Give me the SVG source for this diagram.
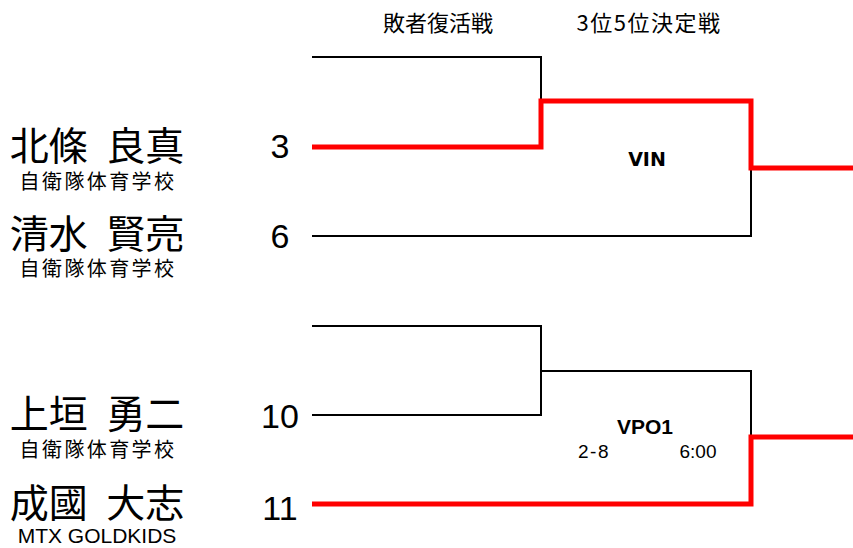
<svg xmlns="http://www.w3.org/2000/svg" width="853" height="548" viewBox="0 0 853 548">
<style>
.bg{fill:#fff}
.name{font-family:"Noto Sans CJK JP","Noto Sans",sans-serif;font-size:39px;fill:#000;text-anchor:middle;word-spacing:10px}
.school{font-family:"Noto Sans CJK JP","Noto Sans",sans-serif;font-size:20px;letter-spacing:2.4px;fill:#000;text-anchor:middle}
.team{font-family:"Liberation Sans",Arial,sans-serif;font-size:21px;fill:#000;text-anchor:middle}
.seed{font-family:"Liberation Sans",Arial,sans-serif;font-size:34px;fill:#000;text-anchor:middle}
.head{font-family:"Noto Sans CJK JP","Noto Sans",sans-serif;font-size:22px;fill:#000;text-anchor:middle}
.match{font-family:"Liberation Sans",Arial,sans-serif;font-size:21px;font-weight:bold;fill:#000;text-anchor:middle}
.vin{font-family:"DejaVu Sans",Verdana,sans-serif;font-size:19px;font-weight:bold;fill:#000;text-anchor:middle}
.info{font-family:"Liberation Sans",Arial,sans-serif;font-size:19px;fill:#000;text-anchor:middle}
.blk{fill:none;stroke:#000;stroke-width:2}
.red{fill:none;stroke:#ff0000;stroke-width:5;stroke-linejoin:miter}
</style>
<rect class="bg" x="0" y="0" width="853" height="548"/>
<g id="headers">
<text class="head" x="438" y="31">敗者復活戦</text>
<text class="head" x="649" y="31" style="letter-spacing:1.5px">3位5位決定戦</text>
</g>
<g id="connectors">
<path class="blk" d="M312,57 H541 V101"/>
<path class="blk" d="M312,236 H751 V168"/>
<path class="red" d="M312,147 H541 V101 H751 V168 H853"/>
<path class="blk" d="M312,326 H541 V415 H312"/>
<path class="blk" d="M541,371 H751 V437"/>
<path class="red" d="M312,504 H751 V437 H853"/>
</g>
<g id="player-3">
<text class="name" x="97" y="160">北條 良真</text>
<text class="school" x="98" y="189">自衛隊体育学校</text>
<text class="seed" x="280" y="158">3</text>
</g>
<g id="player-6">
<text class="name" x="97" y="248">清水 賢亮</text>
<text class="school" x="98" y="276">自衛隊体育学校</text>
<text class="seed" x="280" y="248">6</text>
</g>
<g id="player-10">
<text class="name" x="97" y="428">上垣 勇二</text>
<text class="school" x="98" y="457">自衛隊体育学校</text>
<text class="seed" x="280" y="428">10</text>
</g>
<g id="player-11">
<text class="name" x="97" y="517">成國 大志</text>
<text class="team" x="97" y="543">MTX GOLDKIDS</text>
<text class="seed" x="280" y="520">11</text>
</g>
<g id="match-1">
<text class="vin" x="647" y="166">VIN</text>
</g>
<g id="match-2">
<text class="match" x="645" y="434">VPO1</text>
<text class="info" x="594" y="458" style="letter-spacing:1.5px">2-8</text>
<text class="info" x="698" y="458">6:00</text>
</g>
</svg>
